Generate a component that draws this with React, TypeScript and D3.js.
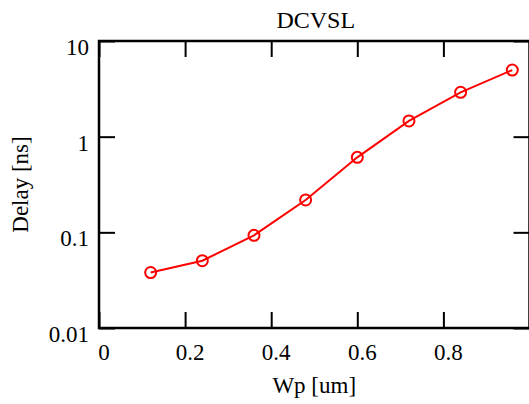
import React, { useEffect, useRef } from 'react';
import * as d3 from 'd3';

const width = 529;
const height = 404;

// values
const wp = [0.12, 0.24, 0.36, 0.48, 0.6, 0.72, 0.84, 0.96];
const delay = [0.038, 0.0505, 0.093, 0.218, 0.608, 1.46, 2.91, 4.97];
const xTicks = [0, 0.2, 0.4, 0.6, 0.8];
const yTicks = [0.01, 0.1, 1, 10];
const yTickLabels = ['0.01', '0.1', '1', '10'];

const font = '"Liberation Serif", "Times New Roman", serif';

export default function App() {
  const ref = useRef<SVGSVGElement>(null);

  useEffect(() => {
    const svg = d3.select(ref.current);
    svg.selectAll('*').remove();

    const left = 99;
    const right = 529.5;
    const top = 41;
    const bottom = 328;

    const x = d3.scaleLinear().domain([0, 1]).range([left, right]);
    const y = d3.scaleLog().domain([0.01, 10]).range([bottom, top]);

    const style = (g: any) => {
      g.select('.domain').remove();
      g.selectAll('line').attr('stroke', '#000').attr('stroke-width', 2);
      g.attr('font-family', font).attr('font-size', 23);
      g.selectAll('text').attr('fill', '#000');
    };

    svg.append('g')
      .attr('transform', 'translate(0,' + bottom + ')')
      .call(d3.axisBottom(x).tickValues(xTicks).tickSize(-16).tickSizeOuter(0)
        .tickPadding(16).tickFormat((d: any) => d3.format('')(d)))
      .call(style)
      .selectAll('text').attr('dx', 4.5);

    svg.append('g')
      .attr('transform', 'translate(0,' + top + ')')
      .call(d3.axisTop(x).tickValues(xTicks).tickSize(-16).tickSizeOuter(0).tickFormat(() => ''))
      .call(style);

    svg.append('g')
      .attr('transform', 'translate(' + left + ',0)')
      .call(d3.axisLeft(y).tickValues(yTicks).tickSize(-16).tickSizeOuter(0)
        .tickPadding(10).tickFormat((d: any, i: number) => yTickLabels[i]))
      .call(style)
      .selectAll('text').attr('dy', 13.5);

    svg.append('g')
      .attr('transform', 'translate(' + right + ',0)')
      .call(d3.axisRight(y).tickValues(yTicks).tickSize(-16).tickSizeOuter(0).tickFormat(() => ''))
      .call(style);

    // frame
    svg.append('rect')
      .attr('x', left)
      .attr('y', top)
      .attr('width', right - left)
      .attr('height', bottom - top)
      .attr('fill', 'none')
      .attr('stroke', '#000')
      .attr('stroke-width', 2.5);

    const pts = wp.map((d, i) => [d, delay[i]] as [number, number]);

    const line = d3.line<[number, number]>()
      .x((d) => x(d[0]))
      .y((d) => y(d[1]));

    svg.append('path')
      .datum(pts)
      .attr('d', line)
      .attr('fill', 'none')
      .attr('stroke', '#ff0000')
      .attr('stroke-width', 2);

    svg.selectAll('circle.pt')
      .data(pts)
      .enter()
      .append('circle')
      .attr('class', 'pt')
      .attr('cx', (d) => x(d[0]))
      .attr('cy', (d) => y(d[1]))
      .attr('r', 5.5)
      .attr('fill', 'none')
      .attr('stroke', '#ff0000')
      .attr('stroke-width', 2);

    const mid = (left + right) / 2;

    svg.append('text')
      .text('DCVSL')
      .attr('x', mid + 1.5)
      .attr('y', 28)
      .attr('text-anchor', 'middle')
      .attr('font-family', font)
      .attr('font-size', 24);

    svg.append('text')
      .text('Wp [um]')
      .attr('x', mid)
      .attr('y', 393)
      .attr('text-anchor', 'middle')
      .attr('font-family', font)
      .attr('font-size', 23);

    svg.append('text')
      .text('Delay [ns]')
      .attr('transform', 'translate(28,' + (top + bottom) / 2 + ') rotate(-90)')
      .attr('text-anchor', 'middle')
      .attr('font-family', font)
      .attr('font-size', 23);
  }, []);

  return (
    <svg
      ref={ref}
      width={width}
      height={height}
      style={{ position: 'absolute', left: 0, top: 0, background: '#fff' }}
    />
  );
}
